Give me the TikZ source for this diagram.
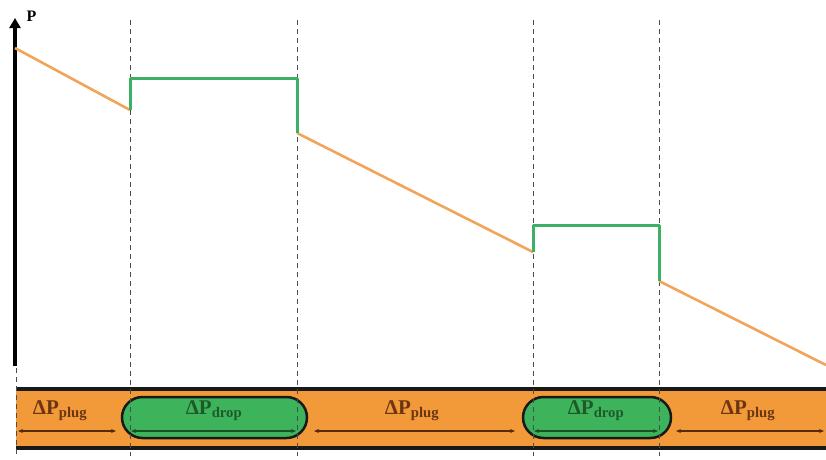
\documentclass[tikz,border=0pt]{standalone}
\usepackage{fontspec}
\setmainfont{Liberation Serif}
\usetikzlibrary{arrows.meta}
\definecolor{lineorange}{HTML}{F2A55A}
\definecolor{stepgreen}{HTML}{3DB066}
\definecolor{tubeorange}{HTML}{F2993A}
\definecolor{dropgreen}{HTML}{3DB45C}
\definecolor{plugtext}{HTML}{6B3510}
\definecolor{droptext}{HTML}{1E5A28}
\tikzset{
  guide/.style={dash pattern=on 5pt off 4pt, black!70, line width=0.9pt},
  profile/.style={lineorange, line width=2.6pt},
  jump/.style={stepgreen, line width=3pt},
  wall/.style={black!90, line width=4pt},
  droplet/.style={draw=black!90, fill=dropgreen, line width=2.5pt},
  span/.style={{Stealth[length=5pt,width=4pt]}-{Stealth[length=5pt,width=4pt]}, line width=1.2pt},
  plugspan/.style={span, draw=plugtext!80!black},
  dropspan/.style={span, draw=droptext!90!black},
  pluglabel/.style={text=plugtext, font=\bfseries\fontsize{21}{21}\selectfont},
  droplabel/.style={text=droptext, font=\bfseries\fontsize{21}{21}\selectfont}
}
% stadium-shaped droplet between two x positions, from y=397 to y=438
\newcommand{\dropletshape}[2]{%
  \draw[droplet] (#1+20.5,397) -- (#2-20.5,397)
    arc[start angle=-90, end angle=90, radius=20.5] -- (#1+20.5,438)
    arc[start angle=90, end angle=270, radius=20.5] -- cycle;}
\begin{document}
\begin{tikzpicture}[x=1pt,y=-1pt]
\useasboundingbox (0,0) rectangle (826,459);

% tube with the train of plugs and droplets
\fill[tubeorange] (16,390) rectangle (826,447);
\dropletshape{122}{307}
\dropletshape{523}{671}
\draw[wall] (16,389) -- (826,389);
\draw[wall] (16,448) -- (826,448);

% boundaries between plugs and droplets
\foreach \x in {130,297,533,659}
  \draw[guide] (\x,20) -- (\x,456);
\draw[guide] (16,368) -- (16,456);

% pressure axis
\draw[line width=3.5pt, -{Triangle[length=10pt,width=11pt]}] (15,366) -- (15,18);
\node[font=\bfseries\fontsize{16}{16}\selectfont, anchor=west] (plab) at (23,16) {P};

% pressure profile along the channel
\coordinate (a0) at (15,48);
\coordinate (a1) at (130,110);
\coordinate (a2) at (130,78);
\coordinate (a3) at (297,78);
\coordinate (a4) at (297,133);
\coordinate (a5) at (533,252);
\coordinate (a6) at (533,225);
\coordinate (a7) at (659,225);
\coordinate (a8) at (659,281);
\coordinate (a9) at (826,365);
\draw[profile] (a0) -- (a1);
\draw[profile] (a4) -- (a5);
\draw[profile] (a8) -- (a9);
\draw[jump, line join=round] (a1) -- (a2) -- (a3) -- (a4);
\draw[jump, line join=round] (a5) -- (a6) -- (a7) -- (a8);

% span arrows
\coordinate (p1s) at (18,431);   \coordinate (p1e) at (116,431);
\coordinate (d1s) at (131,431);  \coordinate (d1e) at (296,431);
\coordinate (p2s) at (314,431);  \coordinate (p2e) at (515,431);
\coordinate (d2s) at (534,431);  \coordinate (d2e) at (658,431);
\coordinate (p3s) at (676,431);  \coordinate (p3e) at (824,431);
\draw[plugspan] (p1s) -- (p1e);
\draw[dropspan] (d1s) -- (d1e);
\draw[plugspan] (p2s) -- (p2e);
\draw[dropspan] (d2s) -- (d2e);
\draw[plugspan] (p3s) -- (p3e);

% labels
\node[pluglabel] (l1) at (60,411) {ΔP\textsubscript{plug}};
\node[droplabel] (l2) at (214,411) {ΔP\textsubscript{drop}};
\node[pluglabel] (l3) at (412,411) {ΔP\textsubscript{plug}};
\node[droplabel] (l4) at (596,411) {ΔP\textsubscript{drop}};
\node[pluglabel] (l5) at (748,411) {ΔP\textsubscript{plug}};
\end{tikzpicture}
\end{document}
